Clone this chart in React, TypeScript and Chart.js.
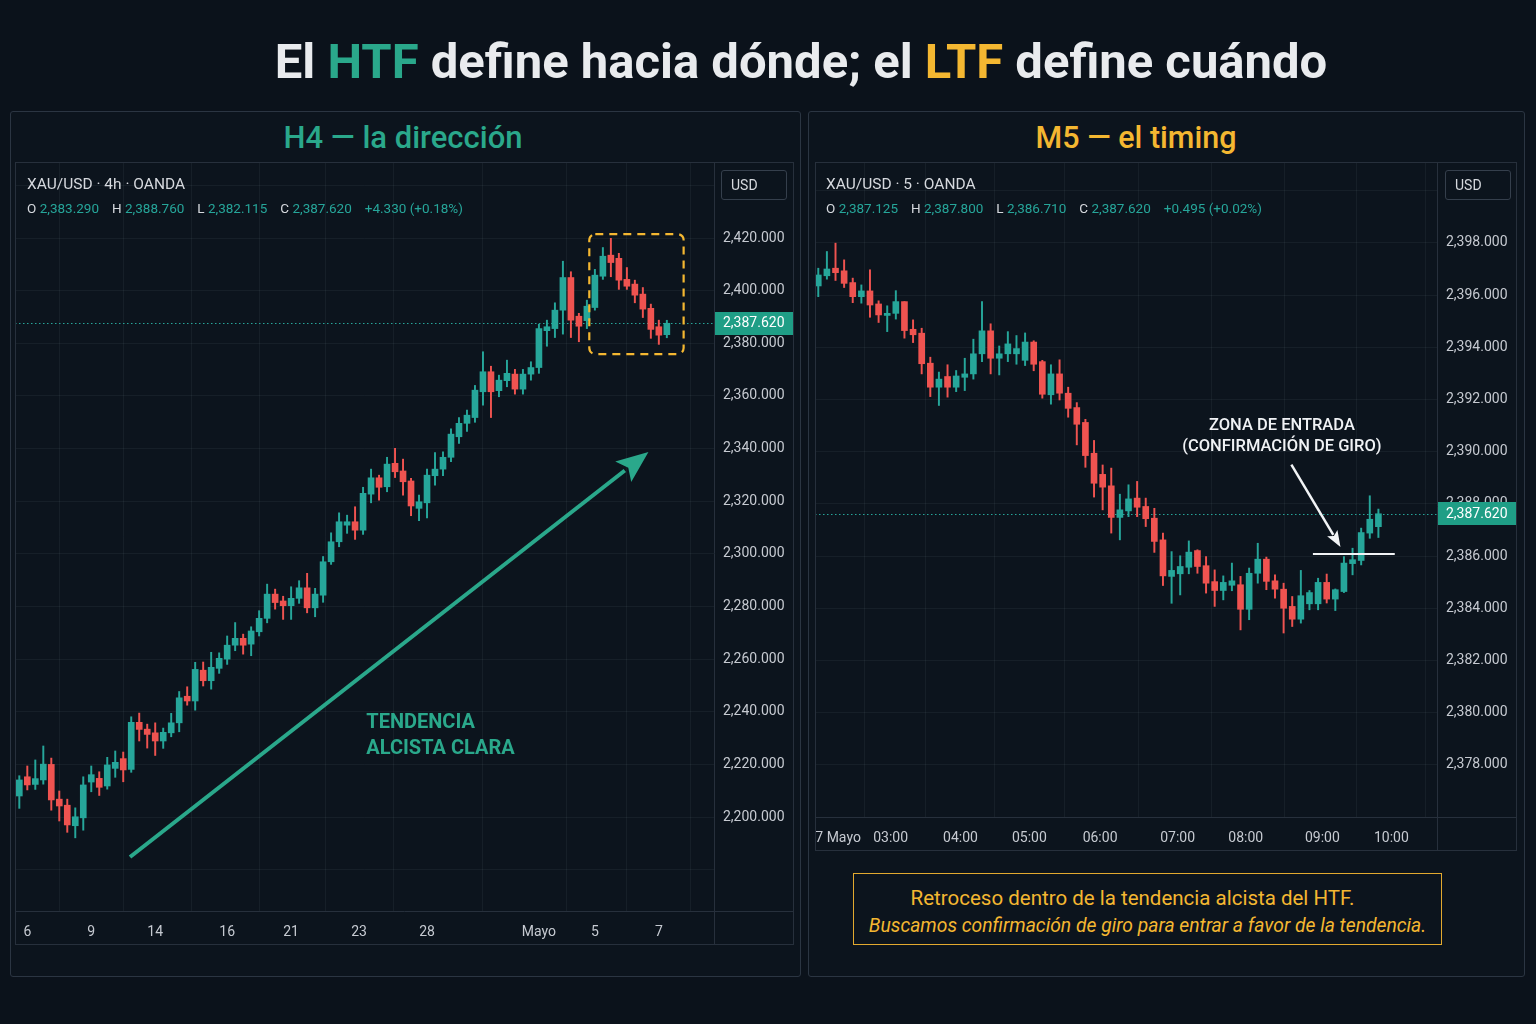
import React, { useEffect, useRef } from 'react';
import { Chart, registerables } from 'chart.js';

Chart.register(...registerables);

// ---------------- H4 (left panel) candles ----------------
const h4Open = [
  2208.0, 2215.3, 2212.4, 2214.1, 2220.0, 2206.8, 2204.5, 2196.7, 2199.7, 2213.3,
  2214.7, 2211.8, 2218.5, 2222.2, 2218.1, 2236.0, 2233.4, 2232.0, 2228.9, 2232.0,
  2235.8, 2245.9, 2244.1, 2255.8, 2251.8, 2256.5, 2260.0, 2265.3, 2267.9, 2265.7,
  2270.4, 2275.5, 2284.7, 2282.1, 2280.3, 2283.1, 2287.1, 2279.5, 2284.3, 2297.0,
  2304.6, 2310.9, 2312.2, 2309.0, 2322.7, 2328.9, 2325.5, 2334.4, 2331.5, 2327.7,
  2317.3, 2319.4, 2329.7, 2332.2, 2336.7, 2344.5, 2349.6, 2351.8, 2361.6, 2369.2,
  2362.0, 2365.8, 2368.3, 2362.6, 2368.3, 2370.8, 2384.8, 2385.6, 2392.6, 2405.0,
  2390.3, 2388.6, 2393.6, 2405.5, 2413.5, 2412.3, 2404.3, 2402.5, 2398.7, 2393.3,
  2386.3, 2383.29,
];
const h4High = [
  2215.7, 2219.4, 2221.7, 2227.0, 2222.4, 2209.9, 2206.8, 2203.5, 2215.3, 2219.4,
  2217.2, 2222.7, 2225.1, 2224.7, 2238.1, 2239.5, 2235.3, 2235.8, 2233.8, 2239.4,
  2247.7, 2249.5, 2258.8, 2258.9, 2262.6, 2262.4, 2268.8, 2273.9, 2269.5, 2272.3,
  2278.4, 2288.5, 2286.6, 2283.9, 2287.5, 2289.8, 2292.6, 2286.9, 2299.0, 2308.0,
  2315.6, 2314.7, 2317.9, 2325.3, 2332.2, 2329.9, 2336.7, 2340.1, 2336.0, 2328.7,
  2322.3, 2332.2, 2338.5, 2338.8, 2347.5, 2351.8, 2354.6, 2364.0, 2376.8, 2371.3,
  2367.9, 2373.6, 2370.1, 2370.1, 2373.0, 2387.3, 2388.8, 2395.4, 2411.2, 2407.2,
  2391.4, 2396.4, 2408.1, 2416.4, 2419.9, 2414.2, 2408.8, 2404.0, 2401.2, 2394.9,
  2388.8, 2388.76,
];
const h4Low = [
  2203.3, 2210.3, 2210.5, 2212.5, 2202.6, 2198.5, 2194.2, 2192.1, 2195.0, 2209.6,
  2208.2, 2210.6, 2215.1, 2213.4, 2217.0, 2228.9, 2226.2, 2223.4, 2226.1, 2230.5,
  2232.4, 2242.5, 2240.6, 2249.8, 2248.6, 2254.6, 2258.0, 2263.2, 2261.9, 2261.3,
  2268.8, 2273.8, 2279.0, 2275.1, 2275.1, 2281.2, 2277.6, 2276.1, 2281.6, 2296.0,
  2302.7, 2307.8, 2305.5, 2307.4, 2319.4, 2320.4, 2323.6, 2329.0, 2322.3, 2314.5,
  2312.6, 2313.7, 2326.1, 2329.7, 2335.0, 2342.0, 2346.5, 2350.0, 2356.5, 2351.8,
  2359.7, 2363.5, 2360.7, 2360.7, 2366.0, 2368.6, 2378.9, 2382.2, 2383.5, 2382.2,
  2380.6, 2385.6, 2392.6, 2404.3, 2405.3, 2400.5, 2400.5, 2395.4, 2389.8, 2381.9,
  2379.6, 2382.115,
];
const h4Close = [
  2214.1, 2212.2, 2214.6, 2220.1, 2206.5, 2204.2, 2197.0, 2200.1, 2212.2, 2216.1,
  2211.3, 2219.8, 2220.8, 2217.9, 2236.0, 2233.3, 2231.4, 2228.9, 2232.2, 2235.8,
  2245.3, 2244.1, 2256.1, 2251.8, 2256.9, 2260.3, 2265.3, 2267.9, 2265.3, 2270.7,
  2275.5, 2284.7, 2281.5, 2280.3, 2283.1, 2287.1, 2279.5, 2284.7, 2297.0, 2304.6,
  2312.2, 2312.2, 2309.0, 2323.0, 2328.9, 2325.3, 2334.1, 2331.2, 2327.4, 2318.2,
  2319.8, 2329.9, 2332.2, 2336.7, 2345.5, 2349.6, 2352.7, 2362.2, 2369.2, 2361.6,
  2366.0, 2368.6, 2362.6, 2368.3, 2370.8, 2385.6, 2386.3, 2392.6, 2405.0, 2388.8,
  2386.5, 2394.1, 2405.9, 2413.1, 2410.7, 2404.0, 2401.7, 2398.3, 2393.0, 2385.3,
  2383.1, 2387.62,
];
const h4TickAt = [1, 9, 17, 26, 34, 42.5, 51, 65, 72, 80];
const h4TickLabels = ['6', '9', '14', '16', '21', '23', '28', 'Mayo', '5', '7'];
const h4PriceTicks = [2200, 2220, 2240, 2260, 2280, 2300, 2320, 2340, 2360, 2380, 2400, 2420];
const h4GridOnly = [2180, 2440];

// ---------------- M5 (right panel) candles ----------------
const m5Open = [
  2396.35, 2396.74, 2397.03, 2396.93, 2396.48, 2395.94, 2396.16, 2395.66, 2395.22, 2395.30,
  2395.75, 2394.69, 2394.54, 2393.39, 2392.47, 2392.88, 2392.47, 2392.85, 2392.98, 2393.75,
  2394.63, 2393.58, 2393.75, 2393.75, 2393.50, 2394.20, 2393.45, 2392.18, 2392.98, 2392.24,
  2391.69, 2391.12, 2389.94, 2389.13, 2388.69, 2387.48, 2387.73, 2388.22, 2387.90, 2387.45,
  2386.62, 2385.22, 2385.32, 2385.57, 2386.21, 2385.63, 2385.02, 2384.68, 2384.88, 2384.90,
  2383.96, 2385.34, 2385.88, 2385.05, 2384.73, 2384.07, 2383.58, 2384.17, 2384.17, 2384.99,
  2384.35, 2384.64, 2385.71, 2385.83, 2386.88, 2387.125,
];
const m5High = [
  2397.03, 2397.67, 2397.99, 2397.35, 2396.65, 2396.39, 2396.97, 2395.78, 2395.59, 2396.17,
  2395.75, 2395.05, 2394.73, 2393.62, 2393.05, 2393.33, 2393.11, 2393.58, 2394.31, 2395.75,
  2394.90, 2394.05, 2394.60, 2394.45, 2394.55, 2394.25, 2393.50, 2393.33, 2393.52, 2392.47,
  2391.88, 2391.24, 2390.43, 2389.49, 2389.37, 2388.37, 2388.73, 2388.86, 2388.22, 2387.83,
  2386.88, 2386.17, 2386.01, 2386.58, 2386.24, 2385.98, 2385.47, 2385.24, 2385.73, 2385.22,
  2385.54, 2386.49, 2385.96, 2385.28, 2384.96, 2384.45, 2385.45, 2384.68, 2385.15, 2385.31,
  2384.74, 2385.98, 2386.30, 2387.07, 2388.31, 2387.80,
];
const m5Low = [
  2395.94, 2396.61, 2396.56, 2396.29, 2395.71, 2395.69, 2395.15, 2394.95, 2394.60, 2395.08,
  2394.35, 2394.18, 2392.98, 2392.11, 2391.77, 2392.09, 2392.30, 2392.34, 2392.78, 2393.45,
  2392.98, 2392.94, 2393.45, 2393.35, 2393.30, 2393.10, 2392.05, 2391.82, 2391.98, 2391.32,
  2390.26, 2389.40, 2388.26, 2387.77, 2386.88, 2386.62, 2387.51, 2387.51, 2387.13, 2386.14,
  2384.87, 2384.19, 2384.51, 2385.32, 2385.34, 2384.58, 2384.07, 2384.32, 2384.67, 2383.17,
  2383.56, 2384.96, 2384.71, 2384.39, 2383.05, 2383.30, 2383.43, 2383.94, 2383.94, 2384.20,
  2383.91, 2384.60, 2385.28, 2385.66, 2386.68, 2386.71,
];
const m5Close = [
  2396.77, 2397.00, 2396.86, 2396.45, 2395.94, 2396.16, 2395.62, 2395.24, 2395.30, 2395.75,
  2394.64, 2394.48, 2393.37, 2392.47, 2392.78, 2392.47, 2392.90, 2392.98, 2393.75, 2394.63,
  2393.58, 2393.75, 2394.13, 2393.95, 2394.20, 2393.35, 2392.20, 2392.98, 2392.24, 2391.66,
  2391.05, 2389.85, 2388.79, 2388.64, 2387.48, 2387.77, 2388.19, 2387.87, 2387.43, 2386.56,
  2385.24, 2385.45, 2385.60, 2386.15, 2385.60, 2384.96, 2384.68, 2384.99, 2385.05, 2383.96,
  2385.34, 2385.88, 2385.03, 2384.73, 2384.00, 2383.58, 2384.48, 2384.60, 2384.99, 2384.35,
  2384.71, 2385.73, 2385.86, 2386.90, 2387.41, 2387.62,
];
const m5TickAt = [2.3, 8.4, 16.5, 24.5, 32.7, 41.7, 49.6, 58.5, 66.5];
const m5TickLabels = ['7 Mayo', '03:00', '04:00', '05:00', '06:00', '07:00', '08:00', '09:00', '10:00'];
const m5PriceTicks = [2378, 2380, 2382, 2384, 2386, 2388, 2390, 2392, 2394, 2396, 2398];
const m5GridOnly = [2400];

// ---------------- styles ----------------
const BG = '#0b121b';
const TEAL = '#26a69a';
const TEAL_TXT = '#2aa88b';
const RED = '#ef5350';
const AMBER = '#f4b731';
const TEXT = '#d6d9de';
const AXIS_TXT = '#c6cad1';
const GRID = 'rgba(150,170,190,0.075)';
const FRAME = '#27303c';
const BADGE = '#1f9e86';
const FONT = 'Roboto, "Noto Sans", sans-serif';

const fmt = (v: number, d = 3) =>
  v.toLocaleString('en-US', { minimumFractionDigits: d, maximumFractionDigits: d });

type Candles = { open: number[]; high: number[]; low: number[]; close: number[] };
type Px = (v: number) => number;

interface PanelCfg {
  candles: Candles;
  left: number; top: number; width: number; height: number;
  xMin: number; xMax: number; yMin: number; yMax: number;
  priceTicks: number[]; gridOnly: number[];
  tickAt: number[]; tickLabels: string[];
  bodyWidth: number;
  annotate: (ctx: CanvasRenderingContext2D, px: Px, py: Px) => void;
}

function drawArrow(
  ctx: CanvasRenderingContext2D, x0: number, y0: number, x1: number, y1: number,
  color: string, width: number, headLen: number, headW: number,
) {
  const a = Math.atan2(y1 - y0, x1 - x0);
  const c = Math.cos(a), s = Math.sin(a);
  const bx = x1 - headLen * c, by = y1 - headLen * s;
  ctx.strokeStyle = color; ctx.fillStyle = color; ctx.lineWidth = width; ctx.lineCap = 'butt';
  ctx.beginPath(); ctx.moveTo(x0, y0); ctx.lineTo(bx + 2 * c, by + 2 * s); ctx.stroke();
  const nx = x1 - headLen * 0.8 * c, ny = y1 - headLen * 0.8 * s;
  ctx.beginPath();
  ctx.moveTo(x1, y1);
  ctx.lineTo(bx + (headW / 2) * s, by - (headW / 2) * c);
  ctx.lineTo(nx, ny);
  ctx.lineTo(bx - (headW / 2) * s, by + (headW / 2) * c);
  ctx.closePath(); ctx.fill();
}

// annotation anchors (data units: candle index / price)
const h4Arrow = { x0: 13.85, y0: 2184.8, x1: 78.7, y1: 2338.7 };
const h4Zone = { x0: 71.3, x1: 83.1, y0: 2375.9, y1: 2421.5 };
const h4Note = { x: 43.4, lines: ['TENDENCIA', 'ALCISTA CLARA'], ys: [2235.9, 2226.0] };
const m5Arrow = { x0: 54.9, y0: 2389.5, x1: 60.6, y1: 2386.35 };
const m5Level = { x0: 57.4, x1: 66.9, y: 2386.08 };
const m5Note = { x: 53.8, lines: ['ZONA DE ENTRADA', '(CONFIRMACIÓN DE GIRO)'], ys: [2391.0, 2390.2] };

function annotateH4(ctx: CanvasRenderingContext2D, px: Px, py: Px) {
  const x0 = px(h4Zone.x0), x1 = px(h4Zone.x1), y0 = py(h4Zone.y1), y1 = py(h4Zone.y0);
  ctx.strokeStyle = AMBER; ctx.lineWidth = 2.2; ctx.setLineDash([8, 6]);
  ctx.beginPath();
  // @ts-ignore
  if (ctx.roundRect) ctx.roundRect(x0, y0, x1 - x0, y1 - y0, 6); else ctx.rect(x0, y0, x1 - x0, y1 - y0);
  ctx.stroke();
  ctx.setLineDash([]);
  drawArrow(ctx, px(h4Arrow.x0), py(h4Arrow.y0), px(h4Arrow.x1), py(h4Arrow.y1), TEAL_TXT, 4, 32, 26);
  ctx.fillStyle = TEAL_TXT; ctx.font = `700 20px ${FONT}`; ctx.textAlign = 'left'; ctx.textBaseline = 'middle';
  h4Note.lines.forEach((t, i) => ctx.fillText(t, px(h4Note.x), py(h4Note.ys[i])));
}

function annotateM5(ctx: CanvasRenderingContext2D, px: Px, py: Px) {
  ctx.strokeStyle = '#f2f4f6'; ctx.lineWidth = 2;
  const ly = Math.round(py(m5Level.y));
  ctx.beginPath(); ctx.moveTo(px(m5Level.x0), ly); ctx.lineTo(px(m5Level.x1), ly); ctx.stroke();
  drawArrow(ctx, px(m5Arrow.x0), py(m5Arrow.y0), px(m5Arrow.x1), py(m5Arrow.y1), '#f2f4f6', 2.5, 16, 12);
  ctx.fillStyle = '#f0f2f5'; ctx.font = `500 16.5px ${FONT}`; ctx.textAlign = 'center'; ctx.textBaseline = 'middle';
  m5Note.lines.forEach((t, i) => ctx.fillText(t, px(m5Note.x), py(m5Note.ys[i])));
}

function decorPlugin(cfg: PanelCfg) {
  const last = cfg.candles.close[cfg.candles.close.length - 1];
  return {
    id: 'decor',
    beforeDatasetsDraw(chart: any) {
      const { ctx, chartArea: a, scales } = chart;
      const y = Math.round(scales.y.getPixelForValue(last)) + 0.5;
      ctx.save();
      ctx.strokeStyle = TEAL; ctx.lineWidth = 1; ctx.setLineDash([1.5, 2.5]);
      ctx.beginPath(); ctx.moveTo(a.left, y); ctx.lineTo(a.right, y); ctx.stroke();
      ctx.restore();
    },
    afterDatasetsDraw(chart: any) {
      const { ctx, scales } = chart;
      ctx.save();
      cfg.annotate(ctx, (v) => scales.x.getPixelForValue(v), (v) => scales.y.getPixelForValue(v));
      ctx.restore();
    },
    afterDraw(chart: any) {
      const { ctx, chartArea: a, width, height, scales } = chart;
      ctx.save();
      ctx.strokeStyle = FRAME; ctx.lineWidth = 1;
      ctx.strokeRect(0.5, 0.5, width - 1, height - 1);
      ctx.beginPath();
      const rx = Math.round(a.right) + 0.5, by = Math.round(a.bottom) + 0.5;
      ctx.moveTo(rx, 0); ctx.lineTo(rx, height);
      ctx.moveTo(0, by); ctx.lineTo(width, by);
      ctx.stroke();
      const y = scales.y.getPixelForValue(last);
      ctx.fillStyle = BADGE;
      ctx.fillRect(Math.round(a.right) + 1, Math.round(y - 11.5), 78, 23);
      ctx.fillStyle = '#ffffff'; ctx.font = `14px ${FONT}`;
      ctx.textBaseline = 'middle'; ctx.textAlign = 'left';
      ctx.fillText(fmt(last), a.right + 9, y + 0.5);
      ctx.restore();
    },
  };
}

const zeroPad = (s: any) => {
  s.paddingTop = 0; s.paddingBottom = 0; s.paddingLeft = 0; s.paddingRight = 0;
};

function CandleChart({ cfg }: { cfg: PanelCfg }) {
  const ref = useRef<HTMLCanvasElement>(null);
  useEffect(() => {
    if (!ref.current) return;
    const { open, high, low, close } = cfg.candles;
    const colors = open.map((o, i) => (close[i] >= o ? TEAL : RED));
    const labeled = cfg.priceTicks;
    const chart = new Chart(ref.current, {
      type: 'bar',
      data: {
        datasets: [
          {
            data: open.map((_, i) => ({ x: i, y: [low[i], high[i]] })) as any,
            backgroundColor: colors,
            barThickness: 1.3,
            grouped: false,
            order: 2,
          } as any,
          {
            data: open.map((o, i) => ({ x: i, y: [o, close[i]] })) as any,
            backgroundColor: colors,
            barThickness: cfg.bodyWidth,
            minBarLength: 1.5,
            grouped: false,
            order: 1,
          } as any,
        ],
      },
      options: {
        animation: false,
        responsive: false,
        maintainAspectRatio: false,
        layout: { padding: 0 },
        plugins: { legend: { display: false }, tooltip: { enabled: false } },
        scales: {
          x: {
            type: 'linear',
            min: cfg.xMin,
            max: cfg.xMax,
            offset: false,
            grid: { color: GRID, drawTicks: false },
            border: { display: false },
            afterBuildTicks: (s: any) => { s.ticks = cfg.tickAt.map((v) => ({ value: v })); },
            afterFit: (s: any) => { s.height = 34; zeroPad(s); },
            ticks: {
              autoSkip: false, maxRotation: 0, padding: 13, color: AXIS_TXT,
              font: { family: FONT, size: 14 },
              callback: (_v: any, i: number) => cfg.tickLabels[i],
            },
          },
          y: {
            type: 'linear',
            position: 'right',
            min: cfg.yMin,
            max: cfg.yMax,
            grid: { color: GRID, drawTicks: false },
            border: { display: false },
            afterBuildTicks: (s: any) => {
              s.ticks = [...cfg.gridOnly, ...labeled].sort((a, b) => a - b).map((v) => ({ value: v }));
            },
            afterFit: (s: any) => { s.width = 80; zeroPad(s); },
            ticks: {
              padding: 9, color: AXIS_TXT,
              font: { family: FONT, size: 14 },
              callback: (v: any) => (labeled.includes(Number(v)) ? fmt(Number(v)) : ''),
            },
          },
        },
      } as any,
      plugins: [decorPlugin(cfg)],
    });
    return () => chart.destroy();
  }, [cfg]);
  return (
    <canvas
      ref={ref}
      width={cfg.width}
      height={cfg.height}
      style={{ position: 'absolute', left: cfg.left, top: cfg.top, width: cfg.width, height: cfg.height }}
    />
  );
}

const h4Cfg: PanelCfg = {
  candles: { open: h4Open, high: h4High, low: h4Low, close: h4Close },
  left: 15, top: 162, width: 779, height: 783,
  xMin: -0.54, xMax: 86.9, yMin: 2164.3, yMax: 2448.9,
  priceTicks: h4PriceTicks, gridOnly: h4GridOnly,
  tickAt: h4TickAt, tickLabels: h4TickLabels,
  bodyWidth: 6,
  annotate: annotateH4,
};

const m5Cfg: PanelCfg = {
  candles: { open: m5Open, high: m5High, low: m5Low, close: m5Close },
  left: 815, top: 162, width: 702, height: 689,
  xMin: -0.38, xMax: 71.8, yMin: 2376.0, yMax: 2401.1,
  priceTicks: m5PriceTicks, gridOnly: m5GridOnly,
  tickAt: m5TickAt, tickLabels: m5TickLabels,
  bodyWidth: 6,
  annotate: annotateM5,
};

function Ohlc({ c, left }: { c: Candles; left: number }) {
  const n = c.close.length - 1;
  const o = c.open[n], h = c.high[n], l = c.low[n], cl = c.close[n];
  const ch = cl - o;
  const pct = (ch / o) * 100;
  const item = (k: string, v: number) => (
    <span style={{ marginRight: 13 }}>
      <span style={{ color: TEXT }}>{k}</span> <span style={{ color: TEAL }}>{fmt(v)}</span>
    </span>
  );
  return (
    <div style={{ position: 'absolute', left, top: 200, font: `13.5px ${FONT}`, lineHeight: '17px', whiteSpace: 'nowrap' }}>
      {item('O', o)}{item('H', h)}{item('L', l)}{item('C', cl)}
      <span style={{ color: TEAL }}>
        {(ch >= 0 ? '+' : '') + fmt(ch)} ({(pct >= 0 ? '+' : '') + pct.toFixed(2)}%)
      </span>
    </div>
  );
}

function UsdBox({ left }: { left: number }) {
  return (
    <div style={{
      position: 'absolute', left, top: 170, width: 66, height: 30, boxSizing: 'border-box',
      border: '1px solid #353f4c', borderRadius: 3, color: TEXT, font: `14px ${FONT}`,
      lineHeight: '28px', paddingLeft: 9,
    }}>USD</div>
  );
}

export default function App() {
  return (
    <div style={{ position: 'fixed', left: 0, top: 0, width: 1536, height: 1024, background: BG, overflow: 'hidden', fontFamily: FONT }}>
      {/* main title */}
      <div style={{
        position: 'absolute', left: 66, width: 1470, top: 32, textAlign: 'center',
        font: `700 49px ${FONT}`, lineHeight: '60px', color: '#e9ebee', whiteSpace: 'nowrap',
      }}>
        El <span style={{ color: TEAL_TXT }}>HTF</span> define hacia dónde; el <span style={{ color: AMBER }}>LTF</span> define cuándo
      </div>

      {/* panel frames */}
      <div style={{ position: 'absolute', left: 10, top: 111, width: 791, height: 866, boxSizing: 'border-box', border: '1px solid #2b3542', borderRadius: 3, background: '#0c141d' }} />
      <div style={{ position: 'absolute', left: 808, top: 111, width: 717, height: 866, boxSizing: 'border-box', border: '1px solid #2b3542', borderRadius: 3, background: '#0c141d' }} />

      {/* panel titles */}
      <div style={{ position: 'absolute', left: 203, width: 400, top: 119, textAlign: 'center', font: `500 31px ${FONT}`, lineHeight: '38px', color: TEAL_TXT }}>
        H4 — la dirección
      </div>
      <div style={{ position: 'absolute', left: 936, width: 400, top: 119, textAlign: 'center', font: `500 30.5px ${FONT}`, lineHeight: '38px', color: AMBER }}>
        M5 — el timing
      </div>

      <CandleChart cfg={h4Cfg} />
      <CandleChart cfg={m5Cfg} />

      {/* chart headers */}
      <div style={{ position: 'absolute', left: 27, top: 175, font: `15.5px ${FONT}`, lineHeight: '18px', color: TEXT }}>XAU/USD · 4h · OANDA</div>
      <Ohlc c={h4Cfg.candles} left={27} />
      <UsdBox left={721} />

      <div style={{ position: 'absolute', left: 826, top: 175, font: `15.5px ${FONT}`, lineHeight: '18px', color: TEXT }}>XAU/USD · 5 · OANDA</div>
      <Ohlc c={m5Cfg.candles} left={826} />
      <UsdBox left={1445} />

      {/* note box */}
      <div style={{
        position: 'absolute', left: 853, top: 873, width: 589, height: 72, boxSizing: 'border-box',
        border: '1.5px solid #e2a92f', color: AMBER, textAlign: 'center',
      }}>
        <div style={{ position: 'absolute', left: -20, right: 10, top: 10, font: `20.5px ${FONT}`, lineHeight: '28px' }}>
          Retroceso dentro de la tendencia alcista del HTF.
        </div>
        <div style={{ position: 'absolute', left: -10, right: -10, top: 39, font: `italic 19.3px ${FONT}`, lineHeight: '26px' }}>
          Buscamos confirmación de giro para entrar a favor de la tendencia.
        </div>
      </div>
    </div>
  );
}
